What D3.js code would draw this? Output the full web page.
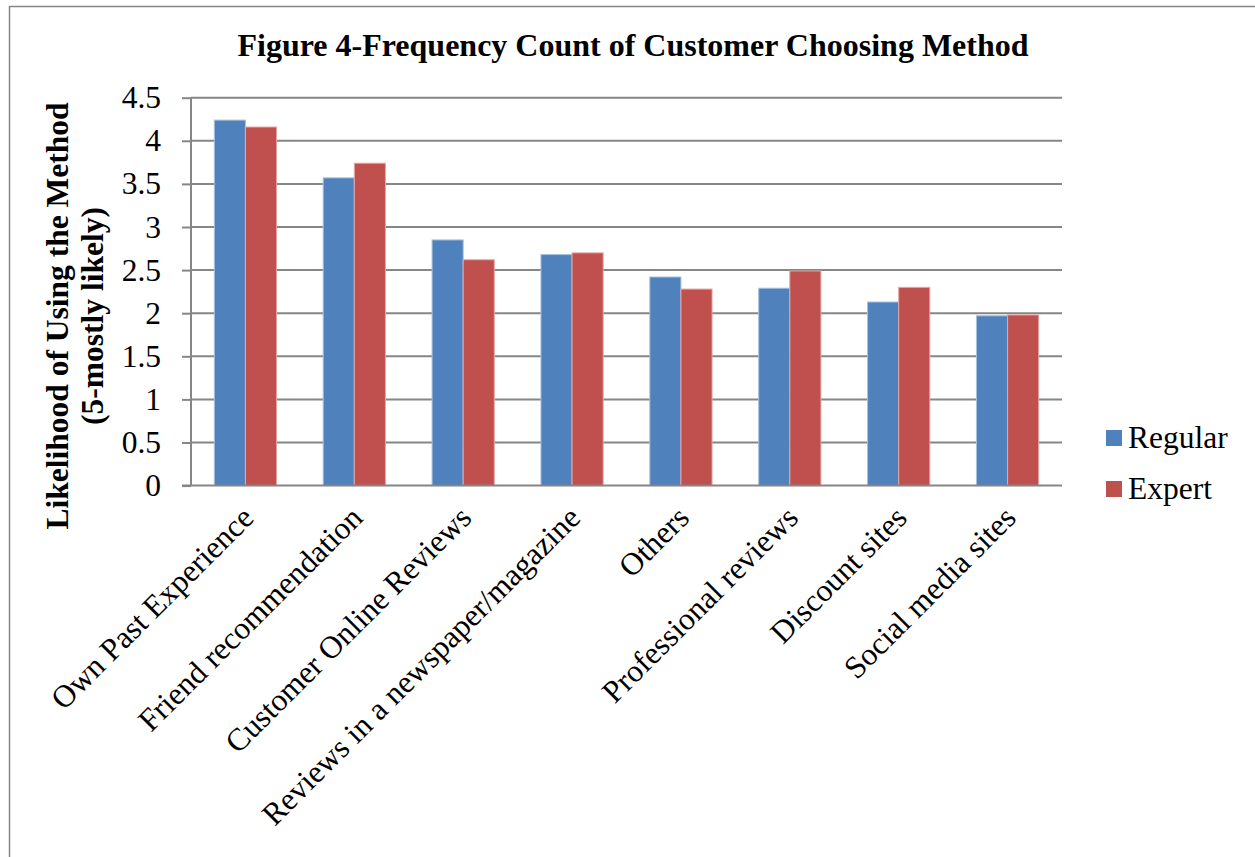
<!DOCTYPE html>
<html>
<head>
<meta charset="utf-8">
<script src="https://cdn.jsdelivr.net/npm/d3@7"></script>
<style>
  body { margin: 0; background: #fff; }
  svg { display: block; font-family: "Liberation Serif", "Times New Roman", serif; }
</style>
</head>
<body>
<div id="chart"></div>
<script>
// data
const categories = [
  'Own Past Experience',
  'Friend recommendation',
  'Customer Online Reviews',
  'Reviews in a newspaper/magazine',
  'Others',
  'Professional reviews',
  'Discount sites',
  'Social media sites'
];
const seriesNames = ['Regular', 'Expert'];
const regular = [4.24, 3.57, 2.85, 2.68, 2.42, 2.29, 2.13, 1.97];
const expert = [4.16, 3.74, 2.62, 2.70, 2.28, 2.49, 2.30, 1.98];
const yTicks = [0, 0.5, 1, 1.5, 2, 2.5, 3, 3.5, 4, 4.5];
const colors = ['#4F81BD', '#C0504D'];

// config
const width = 1255, height = 857;
const margin = {left: 191, right: 1062, top: 97.7, bottom: 485.6};
const fontSize = 31.5;

const svg = d3.select('#chart')
  .append('svg')
  .attr('width', width)
  .attr('height', height);

// outer frame
svg.append('rect')
  .attr('x', 9.5).attr('y', 6.5)
  .attr('width', width + 20).attr('height', height + 20)
  .attr('fill', 'white')
  .attr('stroke', '#868686')
  .attr('stroke-width', 1.5);

const x = d3.scaleBand()
  .domain(categories)
  .range([margin.left, margin.right]);

const x1 = d3.scaleBand()
  .domain(seriesNames)
  .range([x.bandwidth() * 0.75 / 3.5, x.bandwidth() * 2.75 / 3.5]);

const y = d3.scaleLinear()
  .domain([0, 4.5])
  .range([margin.bottom, margin.top]);

// y axis ticks + labels
const yAxis = svg.append('g')
  .attr('transform', `translate(${margin.left},0)`)
  .call(d3.axisLeft(y).tickValues(yTicks).tickSize(9).tickPadding(21)
    .tickFormat(d3.format('')));
yAxis.select('.domain').remove();
yAxis.selectAll('line')
  .attr('stroke', '#868686')
  .attr('stroke-width', 2);
yAxis.selectAll('text')
  .attr('font-size', fontSize)
  .attr('fill', '#000')
  .attr('font-family', '"Liberation Serif", serif');

// gridlines
svg.append('g')
  .selectAll('line')
  .data(yTicks.filter(d => d > 0))
  .enter()
  .append('line')
  .attr('x1', margin.left)
  .attr('x2', margin.right)
  .attr('y1', d => y(d))
  .attr('y2', d => y(d))
  .attr('stroke', '#868686')
  .attr('stroke-width', 2);

// bars
const groups = svg.append('g')
  .selectAll('g')
  .data(categories)
  .enter()
  .append('g')
  .attr('transform', d => `translate(${x(d)},0)`);

groups.selectAll('rect')
  .data((d, i) => [
    {s: 'Regular', v: regular[i]},
    {s: 'Expert', v: expert[i]}
  ])
  .enter()
  .append('rect')
  .attr('x', d => x1(d.s))
  .attr('width', x1.bandwidth())
  .attr('y', d => y(d.v))
  .attr('height', d => y(0) - y(d.v))
  .attr('fill', (d, i) => colors[i])
  .attr('stroke', (d, i) => i === 0 ? '#A7C0DE' : '#E3A7A6')
  .attr('stroke-width', 1);

// x axis
const xAxis = svg.append('g')
  .attr('transform', `translate(0,${margin.bottom})`)
  .call(d3.axisBottom(x).tickSize(0).tickPadding(0));
xAxis.select('.domain')
  .attr('stroke', '#868686')
  .attr('stroke-width', 2)
  .attr('d', `M${margin.left - 9},0H${margin.right}`);
xAxis.selectAll('text')
  .attr('font-size', fontSize)
  .attr('fill', '#000')
  .attr('font-family', '"Liberation Serif", serif')
  .attr('text-anchor', 'end')
  .attr('dy', 0)
  .attr('transform', 'translate(10,34) rotate(-45)');

// vertical axis line
svg.append('line')
  .attr('x1', margin.left).attr('x2', margin.left)
  .attr('y1', margin.top).attr('y2', margin.bottom)
  .attr('stroke', '#868686')
  .attr('stroke-width', 2);

// title
svg.append('text')
  .attr('x', 633)
  .attr('y', 56)
  .attr('text-anchor', 'middle')
  .attr('font-size', 32)
  .attr('font-weight', 'bold')
  .text('Figure 4-Frequency Count of Customer Choosing Method');

// y axis title
const yTitle = svg.append('text')
  .attr('transform', 'translate(68,316) rotate(-90)')
  .attr('text-anchor', 'middle')
  .attr('font-size', fontSize)
  .attr('font-weight', 'bold');
yTitle.append('tspan').attr('x', 0).attr('dy', 0).text('Likelihood of Using the Method');
yTitle.append('tspan').attr('x', 0).attr('dy', 35).text('(5-mostly likely)');

// legend
const legend = svg.append('g')
  .selectAll('g')
  .data(seriesNames)
  .enter()
  .append('g')
  .attr('transform', (d, i) => `translate(1106,${430 + i * 51})`);
legend.append('rect')
  .attr('width', 16)
  .attr('height', 16)
  .attr('fill', (d, i) => colors[i]);
legend.append('text')
  .attr('x', 22)
  .attr('y', 18)
  .attr('font-size', fontSize)
  .text(d => d);
</script>
</body>
</html>
